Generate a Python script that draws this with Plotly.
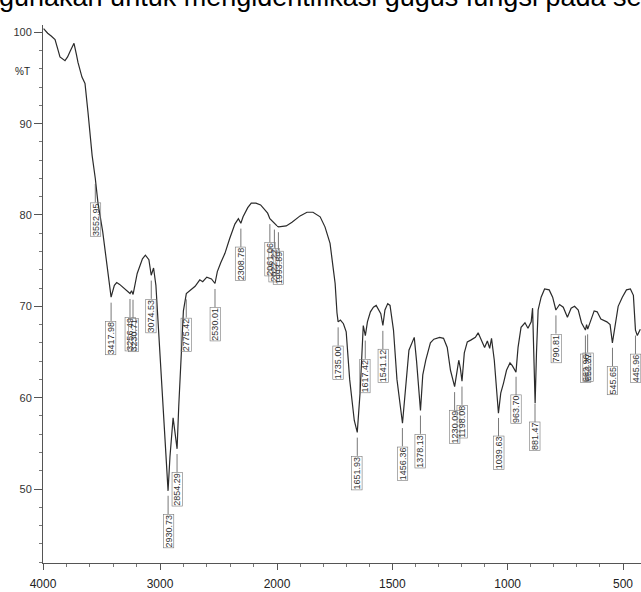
import numpy as np
import plotly.graph_objects as go

# ---- spectrum data: wavenumber (cm-1) and %T ----
wavenumber = [3995, 3960, 3930, 3897, 3870, 3855, 3812, 3790, 3769, 3745, 3735, 3715, 3701,
              3667, 3641, 3615, 3580, 3553, 3530, 3490, 3450, 3418, 3390, 3370, 3345, 3300,
              3256, 3243, 3230, 3195, 3150, 3125, 3095, 3075, 3055, 3035, 3010, 2985, 2960,
              2945, 2931, 2915, 2900, 2888, 2875, 2854, 2840, 2820, 2800, 2775, 2745, 2700,
              2660, 2635, 2600, 2560, 2530, 2510, 2480, 2445, 2405, 2360, 2330, 2309, 2290,
              2250, 2220, 2180, 2140, 2080, 2061, 2040, 2022, 2000, 1993, 1960, 1935, 1900,
              1870, 1844, 1813, 1792, 1770, 1757, 1748, 1740, 1735, 1725, 1712, 1700, 1685,
              1665, 1652, 1640, 1632, 1626, 1617, 1608, 1595, 1582, 1570, 1560, 1550, 1541,
              1532, 1520, 1510, 1495, 1480, 1456, 1440, 1428, 1405, 1395, 1378, 1368, 1355,
              1335, 1320, 1295, 1278, 1262, 1248, 1230, 1220, 1212, 1205, 1198, 1188, 1175,
              1160, 1140, 1128, 1118, 1100, 1088, 1078, 1070, 1058, 1040, 1030, 1018, 1005,
              990, 980, 964, 955, 942, 925, 912, 898, 892, 887, 881, 875, 868, 855, 840, 820,
              805, 791, 775, 759, 741, 725, 710, 694, 680, 663, 658, 653, 640, 625, 612, 596,
              570, 556, 546, 535, 521, 503, 485, 468, 455, 446, 438, 425]
transmittance = [100.4, 99.9, 99.6, 99.2, 98.0, 97.3, 96.9, 97.3, 97.9, 98.6, 98.8, 97.6, 96.7,
                 95.1, 94.4, 91.2, 86.5, 84.0, 81.3, 78.2, 74.2, 71.0, 72.3, 72.6, 72.4, 71.9,
                 71.4, 71.7, 71.3, 73.6, 75.2, 75.6, 75.1, 73.4, 74.2, 72.3, 67.0, 62.0, 56.8,
                 52.8, 49.8, 53.5, 56.5, 57.8, 56.5, 54.4, 59.0, 65.0, 69.5, 71.4, 71.7, 72.2,
                 72.9, 72.7, 73.2, 73.0, 72.5, 73.8, 74.8, 75.8, 77.4, 79.0, 79.6, 79.1, 79.8,
                 80.8, 81.3, 81.3, 81.1, 80.2, 79.6, 79.3, 79.0, 78.8, 78.7, 78.8, 79.2, 79.9,
                 80.3, 80.3, 79.8, 78.7, 76.9, 74.3, 72.5, 69.3, 68.3, 68.5, 68.1, 67.2, 62.0,
                 57.5, 56.2, 60.5, 65.5, 67.9, 66.8, 68.3, 69.4, 69.9, 70.1, 69.6, 69.2, 67.9,
                 69.6, 70.3, 70.1, 67.4, 62.0, 57.2, 62.0, 65.2, 66.6, 64.0, 58.6, 62.5, 64.1,
                 66.0, 66.4, 66.6, 66.5, 65.5, 63.0, 61.2, 62.8, 64.1, 63.2, 61.8, 64.9, 66.1,
                 66.3, 66.6, 67.1, 66.5, 65.5, 66.2, 65.4, 66.5, 64.1, 58.3, 60.5, 61.6, 63.0,
                 63.8, 63.5, 62.8, 65.5, 67.7, 68.2, 67.6, 68.3, 69.8, 66.0, 59.4, 65.0, 69.6,
                 71.0, 71.9, 71.8, 71.0, 69.6, 70.2, 69.9, 68.8, 69.8, 70.0, 69.6, 68.2, 67.4,
                 68.0, 67.5, 68.5, 69.5, 69.4, 68.6, 68.3, 68.0, 66.0, 68.0, 70.0, 71.0, 71.8,
                 71.9, 71.2, 67.4, 66.8, 67.5]

# ---- peak labels ----
peak_wn = [3552.95, 3417.98, 3256.49, 3230.71, 3074.53, 2930.73, 2854.29, 2775.42, 2530.01,
           2308.78, 2061.06, 2022.22, 1993.89, 1735.00, 1651.93, 1617.42, 1541.12, 1456.36,
           1378.13, 1230.09, 1198.08, 1039.63, 963.70, 881.47, 790.81, 662.96, 653.37,
           545.65, 445.96]

# ---- axis ticks ----
y_ticks = [50, 60, 70, 80, 90, 100]
x_ticks_hi = [4000, 3000]
x_ticks_lo = [2000, 1500, 1000, 500]

title_text = "digunakan untuk mengidentifikasi gugus fungsi pada se"

W = np.array(wavenumber, dtype=float)
T = np.array(transmittance, dtype=float)
hi = W >= 2000
lo = W <= 2000

LINE = "#2b2b2b"
fig = go.Figure()
fig.add_trace(go.Scatter(x=W[hi], y=T[hi], mode="lines", xaxis="x", yaxis="y",
                         line=dict(color=LINE, width=1.2), showlegend=False, hoverinfo="skip"))
fig.add_trace(go.Scatter(x=W[lo], y=T[lo], mode="lines", xaxis="x2", yaxis="y",
                         line=dict(color=LINE, width=1.2), showlegend=False, hoverinfo="skip"))

# leader lines + labels
order = np.argsort(W)
peak_T = np.interp(peak_wn, W[order], T[order])
OFF_START, OFF_END = 0.6, 2.6
segs = {"x": ([], []), "x2": ([], [])}
annotations = []
for w, t in zip(peak_wn, peak_T):
    ax = "x" if w > 2000 else "x2"
    xs, ys = segs[ax]
    xs += [w, w, None]
    ys += [t - OFF_START, t - OFF_END, None]
    annotations.append(dict(x=w, y=t - OFF_END, xref=ax, yref="y", text=f"{w:.2f}",
                            textangle=-90, showarrow=False, xanchor="center", yanchor="top",
                            font=dict(family="Liberation Sans, Arial", size=9, color="#333"),
                            bordercolor="#777", borderwidth=0.6, borderpad=0))
for ax, (xs, ys) in segs.items():
    fig.add_trace(go.Scatter(x=xs, y=ys, mode="lines", xaxis=ax, yaxis="y",
                             line=dict(color="#555", width=0.8), showlegend=False, hoverinfo="skip"))

annotations.append(dict(x=-0.018, y=95.7, xref="paper", yref="y", text="%T", showarrow=False,
                        xanchor="right", yanchor="middle",
                        font=dict(family="Liberation Sans, Arial", size=10, color="#222")))
annotations.append(dict(x=-0.112, y=1.052, xref="paper", yref="paper", text=title_text,
                        showarrow=False, xanchor="left", yanchor="middle",
                        font=dict(family="Liberation Sans, Arial", size=27, color="#000")))

split = (277 - 43) / (641 - 43)
tickfont = dict(family="Liberation Sans, Arial", size=12, color="#222")
common_x = dict(showline=True, linecolor="#555", linewidth=1, ticks="outside", ticklen=6,
                tickcolor="#555", showgrid=False, zeroline=False, tickfont=tickfont,
                tickmode="array", automargin=False, ticklabelstandoff=4)

fig.update_layout(
    template="none",
    width=641, height=592,
    margin=dict(l=43, r=0, t=25, b=29, autoexpand=False),
    paper_bgcolor="white", plot_bgcolor="white",
    xaxis=dict(domain=[0, split], range=[4000, 2000], tickvals=x_ticks_hi,
               ticktext=[str(v) for v in x_ticks_hi],
               minor=dict(tickmode="linear", tick0=0, dtick=200, ticks="outside", ticklen=3,
                          tickcolor="#777"), **common_x),
    xaxis2=dict(domain=[split, 1], range=[2000, 422], tickvals=x_ticks_lo,
                ticktext=[str(v) for v in x_ticks_lo], anchor="y",
                minor=dict(tickmode="linear", tick0=0, dtick=100, ticks="outside", ticklen=3,
                           tickcolor="#777"), **common_x),
    yaxis=dict(range=[41.9, 100.8], tickvals=y_ticks, showline=True, linecolor="#555",
               linewidth=1, ticks="outside", ticklen=8, tickcolor="#555", showgrid=False,
               zeroline=False, automargin=False,
               tickfont=dict(family="Liberation Sans, Arial", size=11, color="#333"),
               minor=dict(tickmode="linear", tick0=0, dtick=2, ticks="outside", ticklen=3,
                          tickcolor="#777")),
    annotations=annotations,
    showlegend=False,
)

fig.write_html("out.html", config={"displayModeBar": False},
               post_script="document.body.style.margin='0';document.body.style.overflow='hidden';")
